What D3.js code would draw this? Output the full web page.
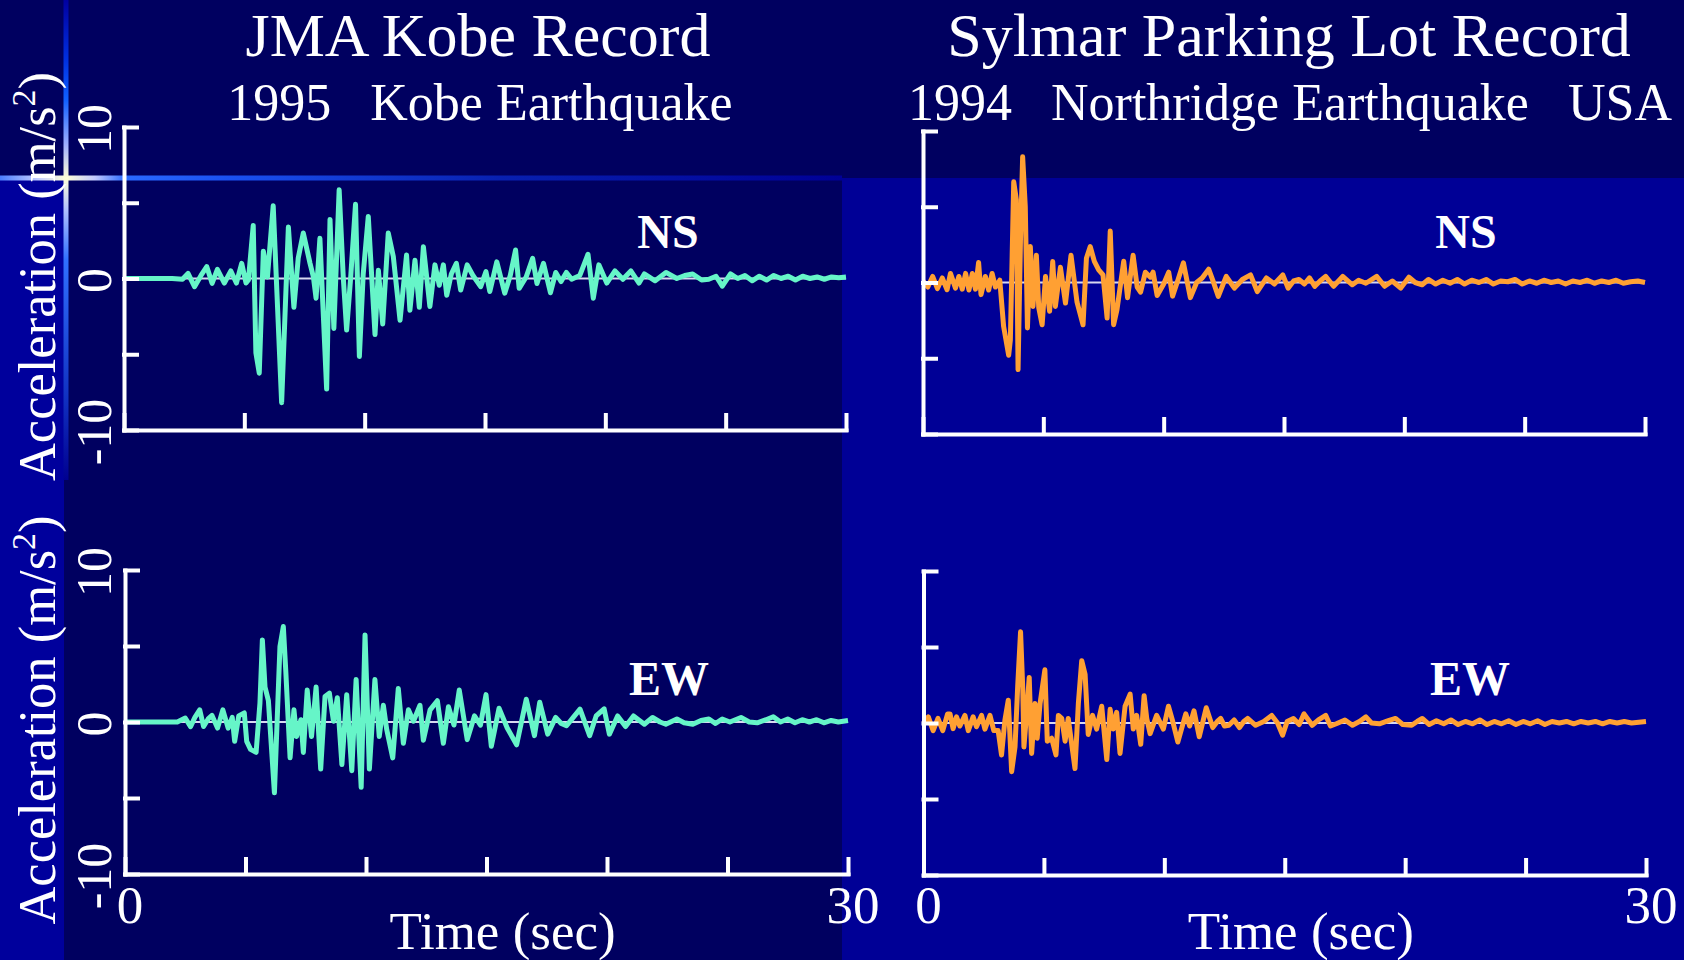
<!DOCTYPE html>
<html>
<head>
<meta charset="utf-8">
<script src="https://cdn.jsdelivr.net/npm/d3@7"></script>
<style>
  html, body { margin: 0; padding: 0; background: #000060; overflow: hidden; }
  svg text { font-family: "Liberation Serif", "Times New Roman", serif; fill: #ffffff; }
  .axis .domain, .axis .tick line { stroke: #ffffff; stroke-width: 4; stroke-linecap: square; }
</style>
</head>
<body>
<div id="chart"></div>
<script>
var width = 1684;
var height = 960;

// axis ticks and labels
var timeTicks = [0, 5, 10, 15, 20, 25, 30];
var timeLabels = [0, 30];
var accTicks = [-10, -5, 0, 5, 10];
var accLabels = [-10, 0, 10];

// records: [time (sec), acceleration (m/s2)]
var kobeNS = [[0,0],[2.0,0],[2.43,-0.05],[2.66,0.34],[2.93,-0.54],[3.2,0.2],[3.44,0.78],[3.66,-0.32],[3.88,0.6],[4.17,-0.3],[4.44,0.5],[4.67,-0.3],[4.89,1.0],[5.07,-0.3],[5.17,-0.1],[5.37,3.5],[5.48,-4.9],[5.62,-6.25],[5.79,1.8],[5.96,0.1],[6.2,4.8],[6.55,-8.2],[6.83,3.4],[7.06,-1.9],[7.24,1.35],[7.45,3.0],[7.73,1.0],[7.87,0.1],[7.98,-1.3],[8.14,2.65],[8.42,-7.3],[8.56,3.9],[8.72,-3.3],[8.94,5.85],[9.11,0.1],[9.25,-3.4],[9.42,0.1],[9.62,4.9],[9.78,-5.15],[9.94,0.3],[10.15,4.1],[10.43,-3.7],[10.57,0.55],[10.75,-3.0],[10.98,3.0],[11.19,1.45],[11.47,-2.75],[11.74,1.55],[11.88,-2.1],[12.09,1.2],[12.27,-1.9],[12.44,2.1],[12.71,-1.85],[12.92,0.9],[13.1,-0.45],[13.27,0.9],[13.41,-1.1],[13.6,0.3],[13.81,1.0],[13.99,-0.76],[14.26,0.9],[14.5,0.2],[14.82,-0.54],[15.04,0.45],[15.2,-0.86],[15.49,1.1],[15.82,-0.97],[16.05,0.2],[16.27,1.88],[16.42,-0.65],[16.71,0.1],[16.98,1.33],[17.16,-0.33],[17.43,1.0],[17.72,-0.94],[17.94,0.4],[18.16,-0.2],[18.38,0.4],[18.6,-0.05],[18.94,0.2],[19.28,1.6],[19.5,-1.3],[19.73,0.9],[20.06,-0.3],[20.4,0.5],[20.73,-0.05],[21.06,0.5],[21.4,-0.3],[21.62,0.3],[22.07,-0.15],[22.52,0.4],[22.97,0],[23.3,0.2],[23.63,0.3],[24.0,-0.1],[24.3,-0.05],[24.6,0.15],[24.86,-0.5],[25.2,0.3],[25.5,0],[25.8,0.2],[26.1,-0.15],[26.4,0.15],[26.7,-0.1],[27.0,0.2],[27.3,0],[27.6,0.15],[27.9,-0.1],[28.2,0.15],[28.5,0],[28.8,0.1],[29.1,-0.05],[29.4,0.1],[29.7,0.05],[30,0.1]];

var kobeEW = [[0,0],[2.17,0],[2.5,0.26],[2.72,-0.3],[2.9,0.3],[3.1,0.8],[3.26,-0.3],[3.45,0.2],[3.61,0.43],[3.84,-0.4],[4.06,0.8],[4.28,-0.4],[4.45,0.3],[4.55,-1.27],[4.72,0.4],[4.95,0.6],[5.05,-1.27],[5.21,-1.8],[5.44,-2.0],[5.6,1.25],[5.7,5.4],[5.81,2.3],[5.95,1.4],[6.2,-4.66],[6.43,4.97],[6.57,6.28],[6.67,3.4],[6.85,-2.36],[7.01,0.8],[7.12,-0.95],[7.3,0.15],[7.4,-2.0],[7.56,2.1],[7.74,-0.95],[7.93,2.3],[8.12,-3.1],[8.3,1.68],[8.48,1.9],[8.65,0.05],[8.81,1.6],[9.0,-2.8],[9.2,1.8],[9.41,-3.2],[9.59,2.8],[9.8,-4.3],[9.96,5.73],[10.14,-3.1],[10.37,2.8],[10.55,-0.95],[10.72,1.1],[10.86,-0.5],[11.11,-2.36],[11.34,2.2],[11.55,-1.4],[11.76,0.8],[11.97,0.05],[12.24,1.1],[12.38,-1.2],[12.66,0.8],[12.96,1.4],[13.21,-1.4],[13.42,1.0],[13.65,-0.2],[13.87,2.1],[14.2,-1.16],[14.5,0.4],[14.75,-0.2],[14.98,1.8],[15.2,-1.6],[15.52,0.9],[15.86,-0.4],[16.25,-1.5],[16.65,1.5],[16.99,-0.9],[17.21,1.3],[17.54,-0.8],[17.87,0.3],[18.1,-0.1],[18.32,-0.25],[18.6,0.3],[18.88,0.85],[19.28,-0.9],[19.55,0.4],[19.88,0.87],[20.1,-0.8],[20.44,0.4],[20.77,-0.3],[21.1,0.4],[21.55,-0.15],[21.89,0.3],[22.2,0],[22.44,-0.15],[22.9,0.2],[23.2,-0.05],[23.56,-0.15],[23.9,0.1],[24.23,0.2],[24.5,-0.1],[24.78,0.2],[25.1,0],[25.56,0.3],[25.9,0],[26.23,-0.05],[26.6,0.15],[26.9,0.35],[27.2,0],[27.5,0.2],[27.8,-0.05],[28.1,0.15],[28.4,0],[28.7,0.15],[29.0,-0.05],[29.3,0.1],[29.6,0],[30,0.1]];

var sylmarNS = [[0,0.1],[0.2,-0.3],[0.4,0.4],[0.6,-0.4],[0.8,0.3],[1.0,-0.48],[1.14,0.6],[1.35,-0.37],[1.49,0.4],[1.63,-0.44],[1.77,0.6],[1.91,-0.5],[2.05,0.6],[2.18,-0.44],[2.31,1.32],[2.41,-0.8],[2.59,0.4],[2.73,-0.5],[2.87,0.6],[3.01,-0.3],[3.19,0.15],[3.35,-2.9],[3.56,-4.8],[3.63,-3.8],[3.77,6.65],[3.88,5.45],[3.95,-5.75],[4.05,2.8],[4.14,8.3],[4.25,5.0],[4.34,-3.0],[4.46,2.37],[4.57,-1.58],[4.71,1.8],[4.81,-1.67],[4.95,-2.79],[5.09,0.4],[5.26,-1.9],[5.39,1.38],[5.5,-1.58],[5.71,1.0],[5.92,-1.36],[6.15,1.8],[6.4,-1.3],[6.65,-2.79],[6.79,1.6],[6.95,2.37],[7.12,1.39],[7.3,0.83],[7.48,0.5],[7.65,-2.35],[7.78,3.4],[7.92,-2.79],[8.06,-1.8],[8.34,1.4],[8.5,-1.0],[8.73,1.8],[8.9,-0.3],[9.04,-0.64],[9.24,0.68],[9.45,0.35],[9.56,0.68],[9.73,-0.86],[10.0,-0.1],[10.21,0.68],[10.37,-0.9],[10.6,0.2],[10.82,1.3],[11.11,-1.0],[11.37,0.0],[11.6,0.3],[11.87,0.88],[12.05,0.1],[12.27,-0.92],[12.6,0.4],[12.94,-0.37],[13.27,0.2],[13.61,0.5],[13.89,-0.6],[14.27,0.3],[14.6,-0.1],[14.95,0.5],[15.17,-0.37],[15.4,0.1],[15.62,0.2],[15.85,-0.1],[16.06,0.3],[16.28,-0.25],[16.5,0.1],[16.73,0.4],[17.06,-0.25],[17.44,0.4],[17.84,-0.15],[18.1,0.15],[18.4,-0.05],[18.85,0.4],[19.18,-0.25],[19.5,0.1],[19.85,-0.37],[20.19,0.35],[20.45,0],[20.74,-0.15],[21.0,0.2],[21.3,-0.1],[21.6,0.15],[21.9,-0.05],[22.2,0.2],[22.5,-0.1],[22.8,0.15],[23.1,0],[23.4,0.2],[23.7,-0.1],[24.0,0.1],[24.3,0.05],[24.6,0.2],[24.9,-0.1],[25.2,0.1],[25.5,-0.05],[25.8,0.15],[26.1,0],[26.4,0.1],[26.7,-0.1],[27.0,0.1],[27.3,0],[27.6,0.15],[27.9,-0.05],[28.2,0.1],[28.5,0],[28.8,0.15],[29.1,-0.05],[29.4,0.05],[29.7,0.1],[30,0]];

var sylmarEW = [[0,0],[0.2,0.4],[0.4,-0.5],[0.6,0.3],[0.8,-0.5],[1.0,0.6],[1.1,0.6],[1.23,-0.37],[1.37,0.4],[1.51,-0.2],[1.72,0.5],[1.86,-0.5],[2.06,0.4],[2.2,-0.25],[2.41,0.5],[2.55,-0.4],[2.76,0.5],[2.92,-0.5],[3.1,-0.5],[3.24,-2.1],[3.38,0.18],[3.52,1.5],[3.66,-3.2],[3.8,-1.58],[3.91,2.37],[4.03,6.0],[4.12,2.37],[4.17,-1.58],[4.25,0],[4.39,3.0],[4.49,-2.0],[4.63,1.28],[4.72,-1.0],[4.84,1.28],[5.04,3.5],[5.14,-1.2],[5.32,-1.0],[5.5,-2.1],[5.6,0.5],[5.74,0.3],[5.88,-1.2],[6.01,0.3],[6.29,-3.0],[6.43,1.28],[6.57,4.1],[6.71,3.2],[6.84,-0.75],[7.02,0.5],[7.19,-0.4],[7.4,1.1],[7.61,-2.4],[7.75,0.9],[7.88,-0.4],[8.02,0.7],[8.16,-2.0],[8.37,1.1],[8.58,1.9],[8.71,-0.4],[8.85,0.5],[9.02,-1.4],[9.16,1.8],[9.27,0.3],[9.41,-0.7],[9.68,0.5],[9.96,-0.4],[10.17,1.1],[10.35,0.1],[10.56,-1.25],[10.89,0.6],[11.05,-0.2],[11.23,0.8],[11.45,-0.9],[11.74,1.0],[12.01,-0.3],[12.2,0.1],[12.34,0.3],[12.5,-0.2],[12.68,-0.15],[12.9,0.2],[13.12,-0.3],[13.3,0.1],[13.46,0.3],[13.79,-0.15],[14.13,0.1],[14.46,0.5],[14.7,0],[14.91,-0.8],[15.1,0.1],[15.36,0.3],[15.6,-0.1],[15.8,0.6],[16.14,-0.15],[16.4,0.2],[16.7,0.5],[16.9,-0.2],[17.14,-0.05],[17.5,0.2],[17.81,-0.15],[18.1,0.1],[18.37,0.4],[18.6,0],[18.93,-0.05],[19.3,0.15],[19.6,0.3],[19.9,-0.1],[20.27,-0.15],[20.5,0.1],[20.71,0.3],[21.0,-0.1],[21.3,0.15],[21.6,-0.05],[21.9,0.2],[22.2,-0.1],[22.5,0.1],[22.8,-0.05],[23.1,0.2],[23.4,-0.1],[23.7,0.1],[24.0,-0.05],[24.3,0.15],[24.6,-0.1],[24.9,0.1],[25.2,-0.05],[25.5,0.15],[25.8,-0.1],[26.1,0.1],[26.4,0],[26.7,0.1],[27.0,-0.05],[27.3,0.1],[27.6,0],[27.9,0.1],[28.2,-0.05],[28.5,0.1],[28.8,0],[29.1,0.1],[29.4,0],[29.7,0.05],[30,0.1]];

var svg = d3.select("#chart").append("svg").attr("width", width).attr("height", height);
var defs = svg.append("defs");

// slide background
svg.append("rect").attr("x", 0).attr("y", 0).attr("width", width).attr("height", height).attr("fill", "#000060");
svg.append("rect").attr("x", 842).attr("y", 178).attr("width", width - 842).attr("height", height - 178).attr("fill", "#000096");
svg.append("rect").attr("x", 0).attr("y", 178).attr("width", 64).attr("height", height - 178).attr("fill", "#00009c");

var glowH = defs.append("linearGradient").attr("id", "glowH").attr("gradientUnits", "userSpaceOnUse")
  .attr("x1", 0).attr("y1", 0).attr("x2", 842).attr("y2", 0);
[[0, "#4a7dff"], [40, "#c8d0ff"], [66, "#ffffd8"], [95, "#c0c8ff"], [125, "#2a6aff"], [230, "#1a50f0"], [500, "#0820b0"], [842, "#000096"]]
  .forEach(function(s) { glowH.append("stop").attr("offset", s[0] / 842).attr("stop-color", s[1]); });

var glowV = defs.append("linearGradient").attr("id", "glowV").attr("gradientUnits", "userSpaceOnUse")
  .attr("x1", 0).attr("y1", 0).attr("x2", 0).attr("y2", 480);
[[0, "#0000a0"], [60, "#0030e0"], [100, "#1060ff"], [145, "#a0b0ff"], [178, "#ffffd8"], [210, "#b0c0ff"], [260, "#3070ff"], [400, "#1030c0"], [480, "#000090"]]
  .forEach(function(s) { glowV.append("stop").attr("offset", s[0] / 480).attr("stop-color", s[1]); });

svg.append("rect").attr("x", 0).attr("y", 175.5).attr("width", 842).attr("height", 5).attr("fill", "url(#glowH)");
svg.append("rect").attr("x", 63.5).attr("y", 0).attr("width", 5).attr("height", 480).attr("fill", "url(#glowV)");

// titles
function title(x, y, size, str) {
  svg.append("text").attr("x", x).attr("y", y).attr("text-anchor", "middle")
    .attr("font-size", size).style("white-space", "pre").text(str);
}
title(478, 56, 62, "JMA Kobe Record");
title(480, 120, 52, "1995   Kobe Earthquake");
title(1289, 56, 62, "Sylmar Parking Lot Record");
title(1290, 120, 52, "1994   Northridge Earthquake   USA");

var panels = [
  {data: kobeNS, color: "#66f5c8", x0: 124, x1: 846, top: 127, bottom: 430, comp: "NS", cx: 668, cy: 248, left: true, base: false},
  {data: sylmarNS, color: "#ffa033", x0: 923, x1: 1645, top: 131, bottom: 434, comp: "NS", cx: 1466, cy: 248, left: false, base: false},
  {data: kobeEW, color: "#66f5c8", x0: 125, x1: 848, top: 570, bottom: 874, comp: "EW", cx: 669, cy: 695, left: true, base: true},
  {data: sylmarEW, color: "#ffa033", x0: 923.5, x1: 1646, top: 571, bottom: 875, comp: "EW", cx: 1470, cy: 695, left: false, base: true}
];

panels.forEach(function(p) {
  var x = d3.scaleLinear().domain([0, 30]).range([p.x0, p.x1]);
  var y = d3.scaleLinear().domain([-10, 10]).range([p.bottom, p.top]);
  var g = svg.append("g");

  // zero line
  g.append("line").attr("x1", x(0)).attr("x2", x(30)).attr("y1", y(0)).attr("y2", y(0))
    .attr("stroke", "#d8d8f0").attr("stroke-width", 2);

  var line = d3.line().x(function(d) { return x(d[0]); }).y(function(d) { return y(d[1]); });
  g.append("path").datum(p.data).attr("d", line).attr("fill", "none")
    .attr("stroke", p.color).attr("stroke-width", 5).attr("stroke-linejoin", "round");

  var xAxis = d3.axisBottom(x).tickValues(timeTicks).tickSize(-15).tickSizeOuter(0).tickFormat("");
  var yAxis = d3.axisLeft(y).tickValues(accTicks).tickSize(-13).tickSizeOuter(0).tickFormat("");
  g.append("g").attr("class", "axis").attr("transform", "translate(0," + p.bottom + ")").call(xAxis);
  g.append("g").attr("class", "axis").attr("transform", "translate(" + p.x0 + ",0)").call(yAxis);

  g.append("text").attr("x", p.cx).attr("y", p.cy).attr("text-anchor", "middle")
    .attr("font-size", 48).attr("font-weight", "bold").text(p.comp);

  if (p.left) {
    accLabels.forEach(function(v) {
      g.append("text").attr("transform", "translate(111," + (y(v) + 2) + ")rotate(-90)")
        .attr("text-anchor", "middle").attr("font-size", 50).text(v);
    });
    var lab = g.append("text").attr("transform", "translate(55," + (y(0) - 2) + ")rotate(-90)")
      .attr("text-anchor", "middle").attr("font-size", 52.5);
    lab.append("tspan").text("Acceleration (m/s");
    lab.append("tspan").attr("font-size", 34).attr("dy", -20).text("2");
    lab.append("tspan").attr("dy", 20).text(")");
  }

  if (p.base) {
    timeLabels.forEach(function(v) {
      g.append("text").attr("x", x(v) + 5).attr("y", 923).attr("text-anchor", "middle")
        .attr("font-size", 53).text(v);
    });
    g.append("text").attr("x", (p.x0 + p.x1) / 2 + 16).attr("y", 949).attr("text-anchor", "middle")
      .attr("font-size", 53).text("Time (sec)");
  }
});
</script>
</body>
</html>
